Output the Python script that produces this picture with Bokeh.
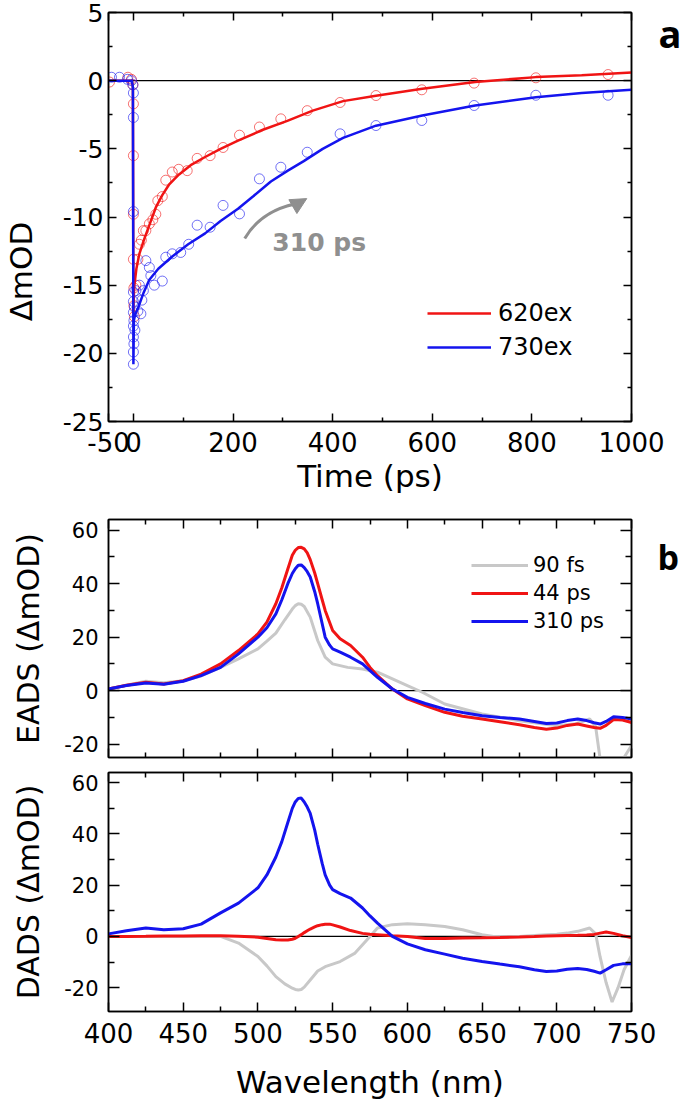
import numpy as np
from bokeh.plotting import figure
from bokeh.models import (Range1d, FixedTicker, LinearAxis, Span, Legend, LegendItem,
                          Label, Arrow, NormalHead)
from bokeh.layouts import column
from bokeh.embed import file_html
from bokeh.resources import INLINE

# ---------------- data: panel a (kinetics) ----------------
t_red = [-48, -11, -4, -1, 0, 0, 0, 0, 1, 1, 2, 5, 9, 12, 16, 20, 25, 32, 39, 45, 49, 58,
         65, 78, 91, 108, 128, 154, 180, 213, 253, 296, 349, 415, 487, 579, 684, 808, 953]
y_red = [-0.1, 0.25, 0.1, -0.3, -1.7, -5.5, -9.8, -13.1, -15.2, -16.5, -17.3, -15.0, -13.1,
         -12.0, -11.7, -11.0, -11.0, -10.5, -10.2, -9.8, -8.8, -8.5, -7.3, -6.7, -6.5, -6.6,
         -5.7, -5.5, -4.9, -4.0, -3.4, -2.8, -2.2, -1.6, -1.09, -0.67, -0.18, 0.21, 0.45]

t_blue = [-44, -28, -12, -4, -1, 0, 0, 0, 0, 0, 0, 0, 0, 0, 0, 1, 1, 2, 3, 5, 9, 12, 15, 17,
          20, 25, 32, 35, 42, 58, 65, 78, 95, 111, 128, 154, 180, 213, 253, 296, 349, 415,
          487, 579, 684, 808, 953]
y_blue = [0.25, 0.25, 0.1, 0.0, -0.3, -0.9, -2.7, -9.6, -15.5, -16.2, -17.0, -18.0, -18.8,
          -19.9, -20.8, -19.3, -17.6, -16.6, -18.3, -15.4, -16.9, -15.0, -17.1, -16.1, -15.4,
          -13.2, -13.7, -14.3, -15.0, -14.7, -12.95, -12.7, -12.6, -12.0, -10.6, -10.75,
          -9.15, -9.77, -7.2, -6.35, -5.25, -3.9, -3.29, -2.92, -1.82, -1.07, -1.07]

fit_t_red = [-50, -3, -1, 0, 1, 2, 6, 12, 20, 32, 45, 58, 72, 91, 115, 144, 175, 210, 260,
             309, 360, 421, 487, 580, 686, 808, 900, 1000]
fit_y_red = [0, 0, -0.5, -17.0, -15.5, -15.0, -13.8, -12.7, -11.8, -10.6, -9.3, -8.4, -7.6,
             -6.9, -6.2, -5.6, -5.0, -4.4, -3.6, -2.95, -2.2, -1.5, -1.1, -0.6, -0.1, 0.26,
             0.4, 0.6]

fit_t_blue = [-50, -3, -1, 0, 1, 3, 10, 20, 32, 50, 78, 110, 144, 175, 210, 240, 276, 310,
              342, 380, 421, 487, 580, 686, 808, 900, 1000]
fit_y_blue = [0, 0, -0.5, -20.8, -17.6, -17.2, -16.6, -15.6, -14.6, -13.8, -12.9, -12.0,
              -11.2, -10.3, -9.4, -8.5, -7.4, -6.6, -5.9, -5.0, -4.2, -3.3, -2.55, -1.82,
              -1.21, -0.9, -0.67]

time_ticks = [-50, 0, 200, 400, 600, 800, 1000]
time_minor = [100, 300, 500, 700, 900]
mod_ticks = [-25, -20, -15, -10, -5, 0, 5]
mod_minor = [-22.5, -17.5, -12.5, -7.5, -2.5, 2.5]

# ---------------- data: panel b (spectra) ----------------
wl = [400, 412, 425, 437, 450, 462, 475, 487, 500, 506, 512, 516, 520, 523, 525, 527, 529,
      531, 533, 535, 538, 540, 543, 545, 548, 550, 555, 562, 570, 575, 580, 590, 600, 612,
      625, 637, 650, 662, 675, 685, 693, 700, 707, 714, 720, 725, 729, 733, 738, 744, 750]

eads_44 = [0.6, 2.0, 3.1, 2.5, 3.7, 6.2, 10.0, 15.0, 21.2, 25.6, 32.5, 38.5, 45.5, 50.6,
           52.5, 53.5, 53.6, 53.0, 51.5, 49.0, 44.0, 40.0, 34.0, 30.0, 25.5, 22.5, 19.4,
           16.9, 12.5, 8.7, 5.6, 0.6, -3.1, -5.6, -8.1, -9.6, -10.6, -11.6, -12.75, -13.8,
           -14.4, -14.0, -13.0, -12.5, -13.2, -13.8, -14.1, -13.0, -10.8, -11.0, -11.9]
eads_310 = [0.6, 1.9, 2.9, 2.4, 3.5, 5.6, 8.7, 13.75, 20.0, 23.5, 28.7, 34.0, 40.0, 43.8,
            45.6, 46.9, 47.0, 46.0, 44.5, 42.5, 37.0, 32.5, 25.0, 20.0, 17.0, 15.6, 14.4,
            12.5, 10.0, 7.5, 5.0, 0.6, -2.5, -4.8, -6.9, -8.2, -9.4, -10.0, -10.6, -11.5,
            -12.25, -12.1, -11.2, -10.6, -11.2, -12.0, -12.5, -11.5, -9.75, -10.0, -10.6]

wl_g_eads = [400, 412, 425, 437, 450, 462, 475, 487, 500, 506, 512, 518, 523, 525, 527, 529,
             531, 535, 540, 545, 550, 560, 570, 580, 590, 600, 610, 625, 650, 675, 700, 712,
             722, 726, 729, 733, 737, 741, 745, 750]
eads_90 = [0.6, 2.0, 3.5, 3.0, 3.7, 5.5, 8.7, 11.9, 15.6, 18.5, 21.5, 26.5, 30.5, 31.8,
           32.5, 32.3, 31.5, 27.5, 18.75, 12.5, 10.0, 8.7, 8.1, 6.9, 4.4, 1.9, -0.6, -5.0,
           -8.75, -11.25, -13.1, -12.5, -10.6, -13.5, -25.5, -38.0, -42.0, -35.0, -25.0,
           -20.5]

dads_310 = [1.0, 2.2, 3.3, 2.6, 3.0, 4.8, 9.2, 13.0, 19.0, 24.0, 31.0, 37.0, 44.5, 50.0,
            52.5, 53.9, 54.0, 52.5, 50.5, 48.0, 41.5, 36.0, 28.5, 24.0, 20.0, 18.3, 16.7,
            15.0, 11.1, 8.0, 5.2, 0.0, -2.9, -5.2, -6.9, -8.5, -9.8, -10.8, -11.8, -13.0,
            -13.7, -13.5, -12.8, -12.5, -12.9, -13.6, -14.3, -13.0, -11.3, -10.7, -10.7]
dads_44 = [0.0, 0.0, 0.1, 0.2, 0.2, 0.3, 0.3, 0.1, -0.3, -0.8, -1.3, -1.4, -1.4, -1.1, -0.7,
           0.0, 0.7, 1.5, 2.2, 2.9, 3.7, 4.2, 4.6, 4.8, 4.8, 4.5, 3.7, 2.3, 1.2, 0.9, 0.7,
           0.3, 0.0, -0.8, -0.8, -0.6, -0.5, -0.4, -0.2, 0.0, 0.2, 0.3, 0.4, 0.5, 0.6, 0.8,
           1.3, 1.7, 1.2, 0.3, -0.4]

wl_g_dads = [400, 412, 425, 437, 450, 462, 475, 487, 500, 506, 512, 518, 523, 525, 527, 529,
             531, 535, 540, 545, 550, 555, 565, 575, 580, 590, 600, 612, 625, 637, 650, 662,
             675, 685, 693, 700, 707, 714, 722, 726, 729, 733, 737, 741, 745, 750]
dads_90 = [0, 0, 0, 0, 0, 0, 0, -2.6, -7.8, -11.5, -15.7, -18.5, -20.2, -20.7, -20.9, -20.7,
           -19.8, -17.0, -13.5, -11.8, -10.8, -9.8, -6.5, 0.0, 3.3, 4.6, 5.0, 4.6, 3.9, 2.6,
           0.65, -0.4, 0.0, 0.4, 0.7, 0.9, 1.3, 2.0, 3.3, 1.0, -8.0, -18.0, -25.6, -20.0,
           -13.0, -7.4]

wl_ticks = [400, 450, 500, 550, 600, 650, 700, 750]
wl_minor = [425, 475, 525, 575, 625, 675, 725]
ds_ticks = [-20, 0, 20, 40, 60]
ds_minor = [-10, 10, 30, 50]

# ---------------- styling ----------------
FONT = "DejaVu Sans"
RED = "#f01414"
BLUE = "#1414ee"
GRAY = "#c8c8c8"
AGRAY = "#8f8f8f"


def hyphen(ticks):
    return {t: ("-" + str(abs(t))) for t in ticks if t < 0}


def style_axis(ax, ticks, minor, size, show, major_in, minor_in, standoff):
    ax.ticker = FixedTicker(ticks=ticks, minor_ticks=minor)
    ax.axis_line_color = "black"
    ax.axis_line_width = 1.5
    ax.major_tick_in = major_in
    ax.major_tick_out = 0
    ax.minor_tick_in = minor_in
    ax.minor_tick_out = 0
    ax.major_tick_line_width = 1.5
    ax.minor_tick_line_width = 1.5
    ax.major_label_text_font = FONT
    ax.major_label_text_color = "black"
    ax.axis_label_text_color = "black"
    ax.axis_label_text_font = FONT
    ax.axis_label_text_font_style = "normal"
    if show:
        ax.major_label_text_font_size = size
        ax.major_label_standoff = standoff
        ax.major_label_overrides = hyphen(ticks)
    else:
        ax.major_label_text_font_size = "1px"
        ax.major_label_standoff = 0
        ax.major_label_overrides = {t: "" for t in ticks}


def text_axis(p, side, value, text, size, standoff, font, style, orientation="horizontal"):
    ax = LinearAxis(ticker=FixedTicker(ticks=[value], minor_ticks=[]),
                    major_label_overrides={value: text},
                    axis_line_color=None, major_tick_line_color=None,
                    minor_tick_line_color=None, major_tick_in=0, major_tick_out=0,
                    minor_tick_in=0, minor_tick_out=0,
                    major_label_text_font=font, major_label_text_font_style=style,
                    major_label_text_font_size=size, major_label_text_color="black",
                    major_label_standoff=standoff, major_label_orientation=orientation)
    p.add_layout(ax, side)
    return ax


def make_fig(w, h, xr, yr, bl, br, bt, bb):
    p = figure(width=w, height=h, x_range=Range1d(*xr), y_range=Range1d(*yr),
               output_backend="svg", toolbar_location=None,
               min_border_left=bl, min_border_right=br,
               min_border_top=bt, min_border_bottom=bb)
    p.grid.visible = False
    p.outline_line_color = "black"
    p.outline_line_width = 1.5
    p.background_fill_color = "white"
    p.border_fill_color = "white"
    p.add_layout(LinearAxis(), "above")
    p.add_layout(LinearAxis(), "right")
    p.add_layout(Span(location=0, dimension="width", line_color="black",
                      line_width=1.2, level="underlay"))
    return p


# ---------------- panel a ----------------
pa = make_fig(684, 508, (-50, 1000), (-25, 5), 102, 52, 12, 87)
style_axis(pa.below[0], time_ticks, time_minor, "26px", True, 8, 4, 10)
style_axis(pa.above[0], time_ticks, time_minor, "", False, 8, 4, 0)
style_axis(pa.left[0], mod_ticks, mod_minor, "25px", True, 8, 4, 5)
style_axis(pa.right[0], mod_ticks, mod_minor, "", False, 8, 4, 0)
pa.below[0].axis_label = "Time (ps)"
pa.below[0].axis_label_text_font_size = "31px"
pa.below[0].axis_label_standoff = 3

# y-axis title placed lower than centre, as in the original
text_axis(pa, "left", -14, "ΔmOD", "31px", 20, FONT, "normal", "vertical")
# panel letter
text_axis(pa, "right", 3.5, "a", "38px", 27, "Open Sans", "bold")

pa.scatter(t_red, y_red, marker="circle", size=10, fill_alpha=0, line_color=RED,
           line_alpha=0.6, line_width=1)
pa.scatter(t_blue, y_blue, marker="circle", size=10, fill_alpha=0, line_color=BLUE,
           line_alpha=0.6, line_width=1)
r_red = pa.line(fit_t_red, fit_y_red, line_color=RED, line_width=2.5)
r_blue = pa.line(fit_t_blue, fit_y_blue, line_color=BLUE, line_width=2.5)

leg_a = Legend(items=[LegendItem(label="620ex", renderers=[r_red]),
                      LegendItem(label="730ex", renderers=[r_blue])],
               location=(319, 57), glyph_width=64, glyph_height=34, label_height=34,
               spacing=0, padding=0, margin=0, border_line_color=None,
               background_fill_alpha=0, label_text_font=FONT, label_text_color="black",
               label_text_font_size="24px", label_standoff=7)
pa.add_layout(leg_a)

pa.add_layout(Label(x=279, y=-11.87, text="310 ps", text_align="left",
                    text_baseline="middle", text_font=FONT, text_font_style="bold",
                    text_font_size="25px", text_color=AGRAY))
pa.quadratic(x0=[223.5], y0=[-11.58], x1=[338.0], y1=[-8.95], cx=[259.0], cy=[-9.38],
             line_color=AGRAY, line_width=3)
pa.add_layout(Arrow(end=NormalHead(size=16, fill_color=AGRAY, line_color=AGRAY),
                    x_start=322.0, y_start=-9.2, x_end=348.0, y_end=-8.65,
                    line_color=AGRAY, line_width=3))

# ---------------- panel b: EADS ----------------
pe = make_fig(684, 257, (400, 750), (-25, 64), 102, 52, 11, 8)
style_axis(pe.below[0], wl_ticks, wl_minor, "", False, 9, 5, 0)
style_axis(pe.above[0], wl_ticks, wl_minor, "", False, 9, 5, 0)
style_axis(pe.left[0], ds_ticks, ds_minor, "21px", True, 11, 6, 10)
style_axis(pe.right[0], ds_ticks, ds_minor, "", False, 11, 6, 0)
pe.left[0].axis_label = "EADS (ΔmOD)"
pe.left[0].axis_label_text_font_size = "30px"
pe.left[0].axis_label_standoff = 15
text_axis(pe, "right", 50, "b", "34px", 26, "Open Sans", "bold")

g1 = pe.line(wl_g_eads, eads_90, line_color=GRAY, line_width=3)
g2 = pe.line(wl, eads_44, line_color=RED, line_width=3)
g3 = pe.line(wl, eads_310, line_color=BLUE, line_width=3)
leg_b = Legend(items=[LegendItem(label="90 fs", renderers=[g1]),
                      LegendItem(label="44 ps", renderers=[g2]),
                      LegendItem(label="310 ps", renderers=[g3])],
               location=(363, 122), glyph_width=57, glyph_height=28, label_height=28,
               spacing=0, padding=0, margin=0, border_line_color=None,
               background_fill_alpha=0, label_text_font=FONT, label_text_color="black",
               label_text_font_size="21px", label_standoff=5)
pe.add_layout(leg_b)

# ---------------- panel b: DADS ----------------
pd_ = make_fig(684, 339, (400, 750), (-29.3, 64), 102, 52, 7, 93)
style_axis(pd_.below[0], wl_ticks, wl_minor, "26px", True, 9, 5, 11)
style_axis(pd_.above[0], wl_ticks, wl_minor, "", False, 9, 5, 0)
style_axis(pd_.left[0], ds_ticks, ds_minor, "21px", True, 11, 6, 10)
style_axis(pd_.right[0], ds_ticks, ds_minor, "", False, 11, 6, 0)
pd_.left[0].axis_label = "DADS (ΔmOD)"
pd_.left[0].axis_label_text_font_size = "30px"
pd_.left[0].axis_label_standoff = 15
pd_.below[0].axis_label = "Wavelength (nm)"
pd_.below[0].axis_label_text_font_size = "31px"
pd_.below[0].axis_label_standoff = 18

pd_.line(wl_g_dads, dads_90, line_color=GRAY, line_width=3)
pd_.line(wl, dads_44, line_color=RED, line_width=3)
pd_.line(wl, dads_310, line_color=BLUE, line_width=3)

layout = column(pa, pe, pd_, spacing=0)
open("out.html", "w").write(file_html(layout, INLINE))
